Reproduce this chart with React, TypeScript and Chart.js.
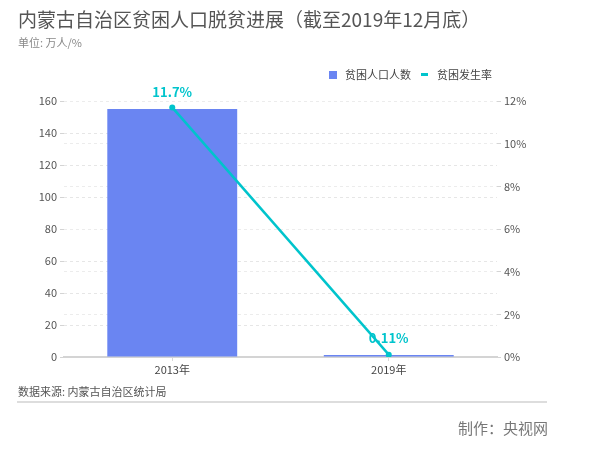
import React, { useEffect, useRef } from "react";
import { Chart, registerables } from "chart.js";

Chart.register(...registerables);

const categories = ["2013年", "2019年"];
const populationValues = [155, 1.2];
const rateValues = [11.7, 0.11];
const rateLabels = ["11.7%", "0.11%"];
const leftTicks = { min: 0, max: 160, step: 20 };
const rightTicks = { min: 0, max: 12, step: 2 };

const FONT = "'Noto Sans CJK SC', 'Noto Sans', sans-serif";
const BAR_COLOR = "#6a85f2";
const LINE_COLOR = "#00c4cc";

const labelPlugin = {
  id: "pointLabels",
  afterDatasetsDraw(chart: any) {
    const meta = chart.getDatasetMeta(1);
    const ctx = chart.ctx;
    ctx.save();
    ctx.font = `bold 13px ${FONT}`;
    ctx.fillStyle = LINE_COLOR;
    ctx.textAlign = "center";
    ctx.textBaseline = "middle";
    meta.data.forEach((pt: any, i: number) => {
      const off = i === 0 ? 15 : 17;
      ctx.fillText(rateLabels[i], pt.x, pt.y - off);
    });
    ctx.restore();
  },
};

export default function App() {
  const ref = useRef<HTMLCanvasElement>(null);
  useEffect(() => {
    if (!ref.current) return;
    const chart = new Chart(ref.current, {
      type: "bar",
      data: {
        labels: categories,
        datasets: [
          {
            type: "bar",
            label: "贫困人口人数",
            data: populationValues,
            backgroundColor: BAR_COLOR,
            barPercentage: 0.6,
            categoryPercentage: 1,
            yAxisID: "y",
            order: 1,
          },
          {
            type: "line",
            label: "贫困发生率",
            data: rateValues,
            borderColor: LINE_COLOR,
            backgroundColor: LINE_COLOR,
            borderWidth: 2.5,
            pointRadius: 3,
            pointBackgroundColor: LINE_COLOR,
            pointBorderWidth: 0,
            yAxisID: "y1",
            order: 0,
          },
        ] as any,
      },
      options: {
        responsive: false,
        animation: false,
        layout: { padding: { top: 101, bottom: 72, left: 0, right: 0 } },
        plugins: {
          legend: { display: false },
          tooltip: { enabled: false },
        },
        scales: {
          x: {
            offset: true,
            grid: {
              offset: false,
              drawOnChartArea: false,
              drawTicks: true,
              tickLength: 4,
              tickColor: "#d8d8d8",
            },
            border: { display: true, color: "#d4d4d4", width: 1.5 },
            ticks: { color: "#444", font: { family: FONT, size: 11 }, padding: 2 },
            afterFit(scale: any) {
              scale.height = 20;
            },
          },
          y: {
            position: "left",
            min: leftTicks.min,
            max: leftTicks.max,
            ticks: {
              stepSize: leftTicks.step,
              color: "#555",
              font: { family: FONT, size: 11 },
              padding: 3,
            },
            grid: {
              color: (c: any) => (c.tick && c.tick.value === 0 ? "#d4d4d4" : "#e6e6e6"),
              tickColor: "#d4d4d4",
              tickLength: 4,
              tickBorderDash: [],
            },
            border: {
              display: false,
              dash: (c: any) => (c.tick && c.tick.value === 0 ? [] : [3, 3]),
            },
            afterFit(scale: any) {
              scale.width = 64;
            },
          },
          y1: {
            position: "right",
            min: rightTicks.min,
            max: rightTicks.max,
            ticks: {
              stepSize: rightTicks.step,
              color: "#555",
              font: { family: FONT, size: 11 },
              padding: 3,
              callback: (v: any) => `${v}%`,
            },
            grid: {
              color: (c: any) => (c.tick && c.tick.value === 0 ? "#d4d4d4" : "#ececec"),
              tickColor: "#d4d4d4",
              tickLength: 4,
              tickBorderDash: [],
            },
            border: {
              display: false,
              dash: (c: any) => (c.tick && c.tick.value === 0 ? [] : [3, 3]),
            },
            afterFit(scale: any) {
              scale.width = 105;
            },
          },
        },
      } as any,
      plugins: [labelPlugin],
    });
    return () => chart.destroy();
  }, []);

  const text = (style: React.CSSProperties, content: string) => (
    <div style={{ position: "absolute", whiteSpace: "nowrap", fontFamily: FONT, lineHeight: 1, ...style }}>
      {content}
    </div>
  );

  return (
    <div style={{ position: "absolute", left: 0, top: 0, width: 602, height: 449, background: "#fff", overflow: "hidden" }}>
      <canvas ref={ref} width={602} height={449} style={{ position: "absolute", left: 0, top: 0 }} />
      {text({ left: 18, top: 9, fontSize: 19, color: "#555" }, "内蒙古自治区贫困人口脱贫进展（截至2019年12月底）")}
      {text({ left: 18, top: 37, fontSize: 11, color: "#888" }, "单位: 万人/%")}
      <div style={{ position: "absolute", left: 329, top: 71, width: 8, height: 8, background: BAR_COLOR }} />
      {text({ left: 345, top: 69, fontSize: 11, color: "#444" }, "贫困人口人数")}
      <div style={{ position: "absolute", left: 421, top: 73, width: 7, height: 2.5, background: LINE_COLOR }} />
      {text({ left: 437, top: 69, fontSize: 11, color: "#444" }, "贫困发生率")}
      {text({ left: 18, top: 386, fontSize: 11, color: "#555" }, "数据来源: 内蒙古自治区统计局")}
      <div style={{ position: "absolute", left: 17, top: 401, width: 530, height: 1.5, background: "#ddd" }} />
      {text({ left: 458, top: 420, fontSize: 15, color: "#777" }, "制作：央视网")}
    </div>
  );
}
